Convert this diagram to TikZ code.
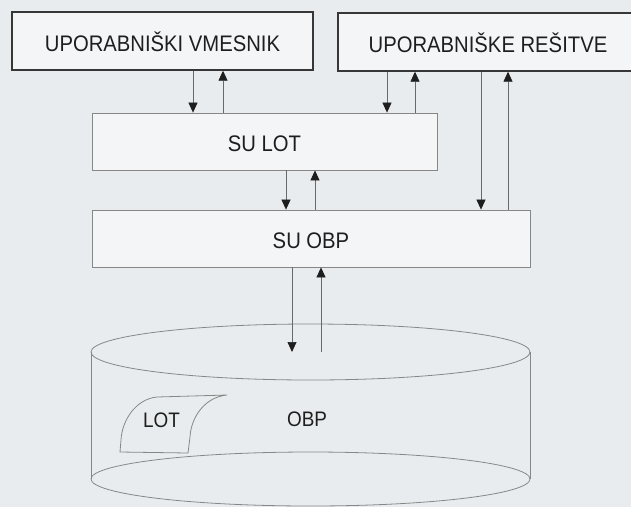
\documentclass[tikz,border=0pt]{standalone}
\usepackage{fontspec}
\setmainfont{Liberation Sans}
\newfontfamily\labelfont[FakeStretch=0.9]{Liberation Sans}
\usetikzlibrary{arrows.meta}
\definecolor{bg}{RGB}{233,236,238}
\definecolor{boxfill}{RGB}{243,245,246}
\definecolor{ink}{RGB}{30,30,30}
\definecolor{darkline}{RGB}{55,55,55}
\definecolor{lightline}{RGB}{135,135,135}
\definecolor{arrline}{RGB}{105,105,105}
\begin{document}
\begin{tikzpicture}[x=1pt,y=-1pt,
  topbox/.style={draw=darkline, line width=1.4pt, fill=boxfill, inner sep=0pt,
    text=ink, font=\labelfont\fontsize{22.5}{26}\selectfont, text height=20pt, text depth=0pt},
  subox/.style={draw=lightline, line width=0.8pt, fill=boxfill, inner sep=0pt,
    text=ink, font=\labelfont\fontsize{22.5}{26}\selectfont, text height=20pt, text depth=0pt},
  cyllabel/.style={inner sep=0pt, text=ink, font=\labelfont\fontsize{21}{25}\selectfont,
    text height=15pt, text depth=0pt},
  cyl/.style={draw=lightline, line width=0.8pt},
  arr/.style={draw=arrline, line width=0.7pt,
    -{Triangle[width=9pt,length=10pt,color=ink,fill=ink]}}]
\useasboundingbox (0,0) rectangle (631,507);
\fill[bg] (0,0) rectangle (631,507);

% boxes
\node[topbox, minimum width=301pt, minimum height=58pt] (uv) at (162.5,41) {UPORABNIŠKI VMESNIK};
\node[topbox, minimum width=300pt, minimum height=58pt] (ur) at (488,42) {UPORABNIŠKE REŠITVE};
\node[subox, minimum width=345pt, minimum height=57pt] (sulot) at (264.5,141.5) {SU LOT};
\node[subox, minimum width=438pt, minimum height=57pt] (suobp) at (311,238.5) {SU OBP};

% cylinder
\coordinate (cyltop) at (310.5,352);
\coordinate (cylbot) at (310.5,479);
\draw[cyl] (cyltop) ellipse [x radius=219.5, y radius=28];
\draw[cyl] (cylbot) ellipse [x radius=219.5, y radius=27];
\draw[cyl] (91,352) -- (91,479);
\draw[cyl] (530,352) -- (530,479);

% LOT sheet
\draw[cyl] (157,397) -- (227,395)
  .. controls (205,397) and (191,417) .. (190,437) -- (188,453)
  -- (120,452) -- (121,440)
  .. controls (122,420) and (136,399) .. (157,397);
\node[cyllabel] (lot) at (161.5,420) {LOT};
\node[cyllabel] (obp) at (307,419) {OBP};

% columns
\coordinate (xa) at (193,0);
\coordinate (xb) at (223,0);
\coordinate (xc) at (387,0);
\coordinate (xd) at (415,0);
\coordinate (xe) at (481,0);
\coordinate (xf) at (508,0);
\coordinate (xg) at (286,0);
\coordinate (xh) at (315,0);
\coordinate (xi) at (292,0);
\coordinate (xj) at (321,0);

% connectors
\draw[arr] (uv.south -| xa) -- (sulot.north -| xa);
\draw[arr] (sulot.north -| xb) -- (uv.south -| xb);
\draw[arr] (ur.south -| xc) -- (sulot.north -| xc);
\draw[arr] (sulot.north -| xd) -- (ur.south -| xd);
\draw[arr] (ur.south -| xe) -- (suobp.north -| xe);
\draw[arr] (suobp.north -| xf) -- (ur.south -| xf);
\draw[arr] (sulot.south -| xg) -- (suobp.north -| xg);
\draw[arr] (suobp.north -| xh) -- (sulot.south -| xh);
\draw[arr] (suobp.south -| xi) -- (cyltop -| xi);
\draw[arr] (cyltop -| xj) -- (suobp.south -| xj);
\end{tikzpicture}
\end{document}
